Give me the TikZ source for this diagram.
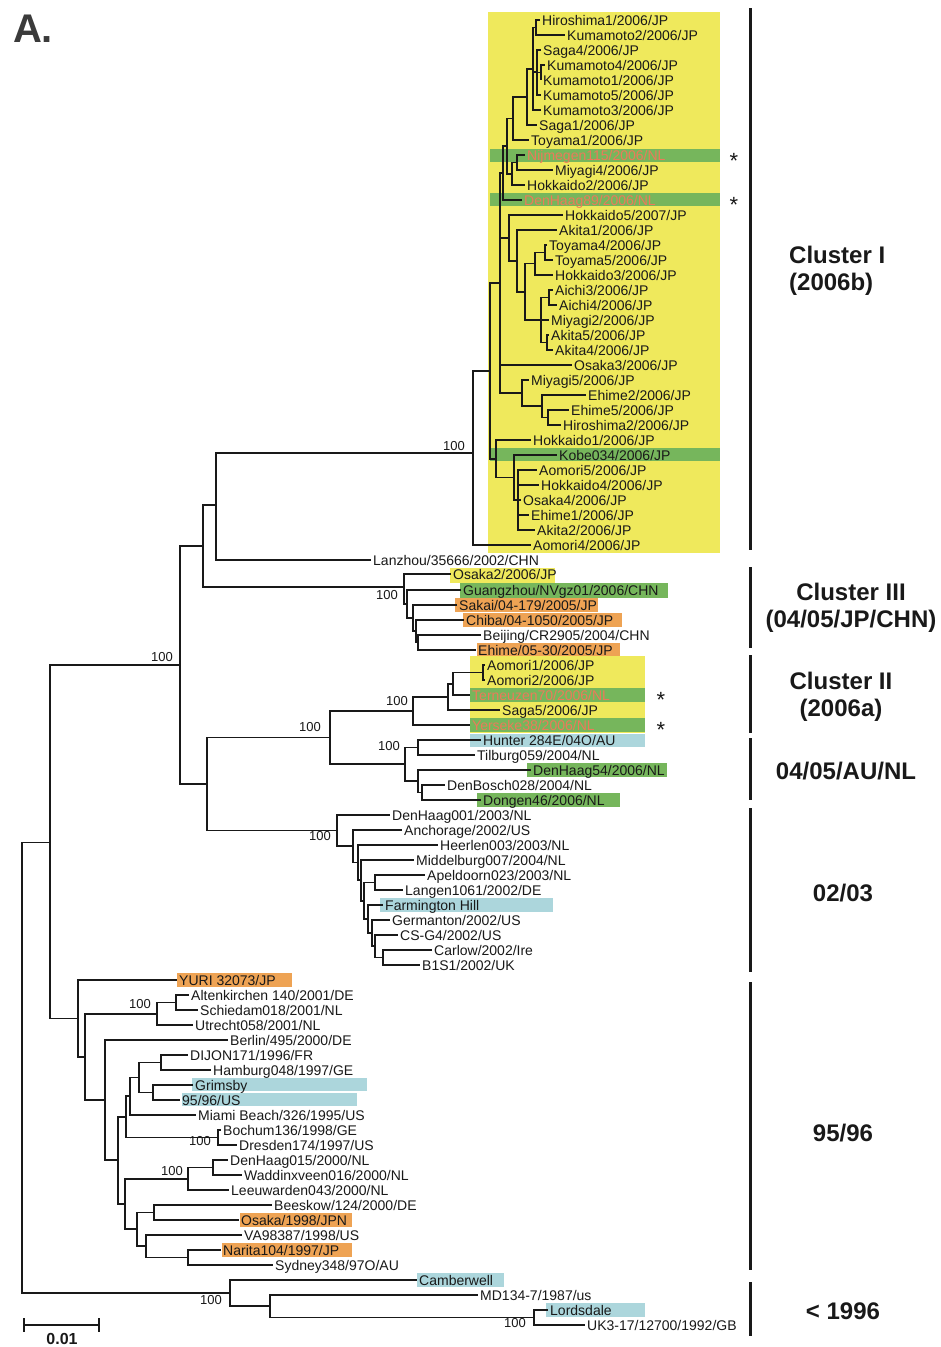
\documentclass[tikz,border=0pt]{standalone}
\usepackage{fontspec}
\setmainfont{Liberation Sans}
\definecolor{yel}{RGB}{239,233,92}
\definecolor{grn}{RGB}{118,182,92}
\definecolor{org}{RGB}{238,163,84}
\definecolor{lbl}{RGB}{172,214,220}
\definecolor{redtx}{RGB}{236,122,90}
\definecolor{ink}{RGB}{25,25,25}
\newcommand\mkpt[3]{\coordinate (#1) at (#2,#3);}
\newcommand\lf[5][ink]{\node[leaf,text=#1] (#2) at (#3,#4) {#5};}
\newcommand\kids[2]{\foreach \c in {#2} {\draw[br] (#1) |- (\c);}}
\begin{document}
\begin{tikzpicture}[x=1pt,y=-1pt,
  br/.style={draw=ink,line width=1.2pt},
  leaf/.style={anchor=west,inner sep=2pt,text height=10pt,text depth=0pt,font=\fontsize{14}{14}\selectfont},
  boot/.style={inner sep=0pt,font=\fontsize{13}{13}\selectfont,text=ink},
  bar/.style={draw=ink,line width=3pt},
  clab/.style={inner sep=0pt,font=\fontsize{24}{27}\selectfont\bfseries,text=ink},
  star/.style={inner sep=0pt,font=\fontsize{22}{22}\selectfont,text=ink}]
\useasboundingbox (0,0) rectangle (940,1347);
\fill[white] (0,0) rectangle (940,1347);
% ---------- colour bands ----------
\fill[yel] (488,12) rectangle (720,553);
\fill[grn] (490,149) rectangle (720,162);
\fill[grn] (490,193) rectangle (720,206);
\fill[grn] (490,448) rectangle (720,461);
\fill[yel] (450,568) rectangle (555,583);
\fill[grn] (460,583) rectangle (668,598);
\fill[org] (455,598) rectangle (598,612);
\fill[org] (463,613) rectangle (622,627);
\fill[org] (477,643) rectangle (620,657);
\fill[yel] (470,656) rectangle (645,733);
\fill[grn] (470,688) rectangle (645,702);
\fill[grn] (470,718) rectangle (645,732);
\fill[lbl] (470,734) rectangle (645,747);
\fill[grn] (527,763) rectangle (667,777);
\fill[grn] (477,793) rectangle (620,807);
\fill[lbl] (380,898) rectangle (553,912);
\fill[org] (177,973) rectangle (292,987);
\fill[lbl] (192,1078) rectangle (367,1091);
\fill[lbl] (182,1093) rectangle (357,1106);
\fill[org] (240,1213) rectangle (352,1227);
\fill[org] (222,1243) rectangle (352,1257);
\fill[lbl] (417,1273) rectangle (504,1287);
\fill[lbl] (546,1303) rectangle (645,1317);
% ---------- leaves: cluster I ----------
\lf{hiro1}{540}{20}{Hiroshima1/2006/JP}
\lf{kuma2}{565}{35}{Kumamoto2/2006/JP}
\lf{saga4}{541}{50}{Saga4/2006/JP}
\lf{kuma4}{545}{65}{Kumamoto4/2006/JP}
\lf{kuma1}{541}{80}{Kumamoto1/2006/JP}
\lf{kuma5}{541}{95}{Kumamoto5/2006/JP}
\lf{kuma3}{541}{110}{Kumamoto3/2006/JP}
\lf{saga1}{537}{125}{Saga1/2006/JP}
\lf{toya1}{529}{140}{Toyama1/2006/JP}
\lf[redtx]{nijm}{525}{155}{Nijmegen115/2006/NL}
\lf{miya4}{553}{170}{Miyagi4/2006/JP}
\lf{hokk2}{525}{185}{Hokkaido2/2006/JP}
\lf[redtx]{dh89}{522}{200}{DenHaag89/2006/NL}
\lf{hokk5}{563}{215}{Hokkaido5/2007/JP}
\lf{akit1}{557}{230}{Akita1/2006/JP}
\lf{toya4}{547}{245}{Toyama4/2006/JP}
\lf{toya5}{553}{260}{Toyama5/2006/JP}
\lf{hokk3}{553}{275}{Hokkaido3/2006/JP}
\lf{aich3}{553}{290}{Aichi3/2006/JP}
\lf{aich4}{557}{305}{Aichi4/2006/JP}
\lf{miya2}{549}{320}{Miyagi2/2006/JP}
\lf{akit5}{549}{335}{Akita5/2006/JP}
\lf{akit4}{553}{350}{Akita4/2006/JP}
\lf{osak3}{572}{365}{Osaka3/2006/JP}
\lf{miya5}{529}{380}{Miyagi5/2006/JP}
\lf{ehim2}{586}{395}{Ehime2/2006/JP}
\lf{ehim5}{569}{410}{Ehime5/2006/JP}
\lf{hiro2}{561}{425}{Hiroshima2/2006/JP}
\lf{hokk1}{531}{440}{Hokkaido1/2006/JP}
\lf{kobe}{557}{455}{Kobe034/2006/JP}
\lf{aomo5}{537}{470}{Aomori5/2006/JP}
\lf{hokk4}{539}{485}{Hokkaido4/2006/JP}
\lf{osak4}{521}{500}{Osaka4/2006/JP}
\lf{ehim1}{529}{515}{Ehime1/2006/JP}
\lf{akit2}{535}{530}{Akita2/2006/JP}
\lf{aomo4}{531}{545}{Aomori4/2006/JP}
\lf{lanz}{371}{560}{Lanzhou/35666/2002/CHN}
% ---------- cluster III ----------
\lf{osak2}{451}{574}{Osaka2/2006/JP}
\lf{guang}{461}{590}{Guangzhou/NVgz01/2006/CHN}
\lf{sakai}{457}{605}{Sakai/04-179/2005/JP}
\lf{chiba}{464}{620}{Chiba/04-1050/2005/JP}
\lf{beij}{481}{635}{Beijing/CR2905/2004/CHN}
\lf{ehimB}{476}{650}{Ehime/05-30/2005/JP}
% ---------- cluster II ----------
\lf{aomo1}{485}{665}{Aomori1/2006/JP}
\lf{aomo2}{485}{680}{Aomori2/2006/JP}
\lf[redtx]{tern}{470}{695}{Terneuzen70/2006/NL}
\lf{saga5}{500}{710}{Saga5/2006/JP}
\lf[redtx]{yers}{470}{725}{Yerseke38/2006/NL}
% ---------- 04/05/AU/NL ----------
\lf{hunt}{481}{740}{Hunter 284E/04O/AU}
\lf{tilb}{475}{755}{Tilburg059/2004/NL}
\lf{dh54}{531}{770}{DenHaag54/2006/NL}
\lf{dbos}{445}{785}{DenBosch028/2004/NL}
\lf{dong}{481}{800}{Dongen46/2006/NL}
% ---------- 02/03 ----------
\lf{dh001}{390}{815}{DenHaag001/2003/NL}
\lf{anch}{402}{830}{Anchorage/2002/US}
\lf{heer}{438}{845}{Heerlen003/2003/NL}
\lf{midd}{414}{860}{Middelburg007/2004/NL}
\lf{apel}{425}{875}{Apeldoorn023/2003/NL}
\lf{lang}{403}{890}{Langen1061/2002/DE}
\lf{farm}{383}{905}{Farmington Hill}
\lf{germ}{390}{920}{Germanton/2002/US}
\lf{csg4}{398}{935}{CS-G4/2002/US}
\lf{carl}{432}{950}{Carlow/2002/Ire}
\lf{b1s1}{420}{965}{B1S1/2002/UK}
% ---------- 95/96 ----------
\lf{yuri}{177}{980}{YURI 32073/JP}
\lf{alten}{189}{995}{Altenkirchen 140/2001/DE}
\lf{schied}{198}{1010}{Schiedam018/2001/NL}
\lf{utre}{193}{1025}{Utrecht058/2001/NL}
\lf{berl}{228}{1040}{Berlin/495/2000/DE}
\lf{dijon}{188}{1055}{DIJON171/1996/FR}
\lf{hamb}{211}{1070}{Hamburg048/1997/GE}
\lf{grims}{193}{1085}{Grimsby}
\lf{usnf}{180}{1100}{95/96/US}
\lf{miami}{196}{1115}{Miami Beach/326/1995/US}
\lf{boch}{221}{1130}{Bochum136/1998/GE}
\lf{dres}{237}{1145}{Dresden174/1997/US}
\lf{dh015}{228}{1160}{DenHaag015/2000/NL}
\lf{wadd}{242}{1175}{Waddinxveen016/2000/NL}
\lf{leeu}{229}{1190}{Leeuwarden043/2000/NL}
\lf{bees}{272}{1205}{Beeskow/124/2000/DE}
\lf{osa98}{239}{1220}{Osaka/1998/JPN}
\lf{va98}{242}{1235}{VA98387/1998/US}
\lf{nari}{221}{1250}{Narita104/1997/JP}
\lf{sydn}{273}{1265}{Sydney348/97O/AU}
% ---------- <1996 ----------
\lf{camb}{417}{1280}{Camberwell}
\lf{md134}{478}{1295}{MD134-7/1987/us}
\lf{lord}{548}{1310}{Lordsdale}
\lf{uk3}{585}{1325}{UK3-17/12700/1992/GB}
% ---------- internal nodes ----------
\mkpt{W1}{536}{27.5} \mkpt{W3}{541}{72.5} \mkpt{W4}{537}{72}
\mkpt{W5}{533}{69} \mkpt{W6}{527}{97} \mkpt{W7}{513}{118.5}
\mkpt{W8}{517}{162.5} \mkpt{W9}{512}{174} \mkpt{W10}{507}{146}
\mkpt{W11}{503}{173}
\mkpt{X1}{545}{252.5} \mkpt{X2}{535}{263.75} \mkpt{X3}{549}{297.5}
\mkpt{X4}{547}{342.5} \mkpt{X5}{541}{320} \mkpt{X6}{525}{292}
\mkpt{X7}{517}{261} \mkpt{X8}{509}{238}
\mkpt{Y1}{548}{417.5} \mkpt{Y2}{542}{406} \mkpt{Y3}{522}{393}
\mkpt{B1}{500}{283}
\mkpt{V4}{518}{500} \mkpt{V3}{514}{477.5} \mkpt{V2}{496}{459}
\mkpt{V1}{490}{371} \mkpt{C1}{473}{453}
\mkpt{N3}{216}{505}
\mkpt{U4}{418}{642.5} \mkpt{U3}{416}{631} \mkpt{U2}{413}{618}
\mkpt{U1}{407}{604} \mkpt{CIII}{404}{587}
\mkpt{N2}{203}{546}
\mkpt{AOM}{483}{672.5} \mkpt{CIIb}{453}{684} \mkpt{CIIa}{448}{697}
\mkpt{CII}{413}{711}
\mkpt{T1}{418}{747.5} \mkpt{T3}{422}{792.5} \mkpt{T2}{418}{781}
\mkpt{AUNL}{405}{764} \mkpt{N5}{330}{737.5}
\mkpt{ZC}{383}{957.5} \mkpt{ZB}{375}{946} \mkpt{ZA}{372}{933}
\mkpt{ZF}{368}{919} \mkpt{ZL}{375}{882.5} \mkpt{ZM}{364}{901}
\mkpt{ZN}{361}{880} \mkpt{ZH}{358}{862.5} \mkpt{Z1}{353}{846}
\mkpt{Z0}{337}{830.5}
\mkpt{N4}{207}{784} \mkpt{N1}{180}{665}
\mkpt{iE}{176}{1002.5} \mkpt{iC}{157}{1014} \mkpt{iK}{161}{1062.5}
\mkpt{iL}{153}{1092.5} \mkpt{iJ}{139}{1077.5} \mkpt{iI}{130}{1096}
\mkpt{iM}{218}{1137.5} \mkpt{iG}{126}{1117} \mkpt{iP}{213}{1167.5}
\mkpt{iN}{188}{1179} \mkpt{iQ}{154}{1212.5} \mkpt{iS}{188}{1257.5}
\mkpt{iR}{146}{1246} \mkpt{iO}{137}{1229} \mkpt{iH}{125}{1204}
\mkpt{iF}{118}{1160} \mkpt{iD}{105}{1100} \mkpt{iB}{85}{1057}
\mkpt{iA}{78}{1018.5}
\mkpt{A0}{50}{842.5}
\mkpt{LL}{534}{1317.5} \mkpt{MM}{270}{1306} \mkpt{CC}{230}{1293}
\mkpt{root}{22}{1068}
% ---------- branches ----------
\kids{W1}{hiro1.west,kuma2.west}
\kids{W3}{kuma4.west,kuma1.west}
\kids{W4}{saga4.west,W3,kuma5.west}
\kids{W5}{W1,W4,kuma3.west}
\kids{W6}{W5,saga1.west}
\kids{W7}{W6,toya1.west}
\kids{W8}{nijm.west,miya4.west}
\kids{W9}{W8,hokk2.west}
\kids{W10}{W7,W9}
\kids{W11}{W10,dh89.west}
\kids{X1}{toya4.west,toya5.west}
\kids{X2}{X1,hokk3.west}
\kids{X3}{aich3.west,aich4.west}
\kids{X4}{akit5.west,akit4.west}
\kids{X5}{X3,miya2.west,X4}
\kids{X6}{X2,X5}
\kids{X7}{akit1.west,X6}
\kids{X8}{hokk5.west,X7}
\kids{Y1}{ehim5.west,hiro2.west}
\kids{Y2}{ehim2.west,Y1}
\kids{Y3}{miya5.west,Y2}
\kids{B1}{W11,X8,osak3.west,Y3}
\kids{V4}{aomo5.west,hokk4.west,osak4.west,ehim1.west,akit2.west}
\kids{V3}{kobe.west,V4}
\kids{V2}{hokk1.west,V3}
\kids{V1}{B1,V2}
\kids{C1}{V1,aomo4.west}
\kids{N3}{C1,lanz.west}
\kids{U4}{beij.west,ehimB.west}
\kids{U3}{chiba.west,U4}
\kids{U2}{sakai.west,U3}
\kids{U1}{guang.west,U2}
\kids{CIII}{osak2.west,U1}
\kids{N2}{N3,CIII}
\kids{AOM}{aomo1.west,aomo2.west}
\kids{CIIb}{AOM,tern.west}
\kids{CIIa}{CIIb,saga5.west}
\kids{CII}{CIIa,yers.west}
\kids{T1}{hunt.west,tilb.west}
\kids{T3}{dbos.west,dong.west}
\kids{T2}{dh54.west,T3}
\kids{AUNL}{T1,T2}
\kids{N5}{CII,AUNL}
\kids{ZC}{carl.west,b1s1.west}
\kids{ZB}{csg4.west,ZC}
\kids{ZA}{germ.west,ZB}
\kids{ZF}{farm.west,ZA}
\kids{ZL}{apel.west,lang.west}
\kids{ZM}{ZL,ZF}
\kids{ZN}{midd.west,ZM}
\kids{ZH}{heer.west,ZN}
\kids{Z1}{anch.west,ZH}
\kids{Z0}{dh001.west,Z1}
\kids{N4}{N5,Z0}
\kids{N1}{N2,N4}
\kids{iE}{alten.west,schied.west}
\kids{iC}{iE,utre.west}
\kids{iK}{dijon.west,hamb.west}
\kids{iL}{grims.west,usnf.west}
\kids{iJ}{iK,iL}
\kids{iI}{iJ,miami.west}
\kids{iM}{boch.west,dres.west}
\kids{iG}{iI,iM}
\kids{iP}{dh015.west,wadd.west}
\kids{iN}{iP,leeu.west}
\kids{iQ}{bees.west,osa98.west}
\kids{iS}{nari.west,sydn.west}
\kids{iR}{va98.west,iS}
\kids{iO}{iQ,iR}
\kids{iH}{iN,iO}
\kids{iF}{iG,iH}
\kids{iD}{berl.west,iF}
\kids{iB}{iC,iD}
\kids{iA}{yuri.west,iB}
\kids{A0}{N1,iA}
\kids{LL}{lord.west,uk3.west}
\kids{MM}{md134.west,LL}
\kids{CC}{camb.west,MM}
\kids{root}{A0,CC}
% ---------- bootstrap values ----------
\node[boot] (b1) at (454,446) {100};
\node[boot] (b2) at (387,595) {100};
\node[boot] (b3) at (162,657) {100};
\node[boot] (b4) at (397,701) {100};
\node[boot] (b5) at (310,727) {100};
\node[boot] (b6) at (389,746) {100};
\node[boot] (b7) at (320,836) {100};
\node[boot] (b8) at (140,1004) {100};
\node[boot] (b9) at (200,1141) {100};
\node[boot] (b10) at (172,1171) {100};
\node[boot] (b11) at (211,1300) {100};
\node[boot] (b12) at (515,1323) {100};
% ---------- asterisks ----------
\node[star] (s1) at (734,161) {*};
\node[star] (s2) at (734,205) {*};
\node[star] (s3) at (661,700) {*};
\node[star] (s4) at (661,730) {*};
% ---------- cluster bars ----------
\draw[bar] (750,8) -- (750,550);
\draw[bar] (750,567) -- (750,648);
\draw[bar] (750,655) -- (750,733);
\draw[bar] (750,738) -- (750,800);
\draw[bar] (750,808) -- (750,972);
\draw[bar] (750,982) -- (750,1270);
\draw[bar] (750,1282) -- (750,1336);
% ---------- cluster labels ----------
\node[clab,anchor=west,align=left] (l1) at (789,271) {Cluster I\\(2006b)};
\node[clab,align=center] (l2) at (851,608) {Cluster III\\(04/05/JP/CHN)};
\node[clab,align=center] (l3) at (841,697) {Cluster II\\(2006a)};
\node[clab] (l4) at (846,771) {04/05/AU/NL};
\node[clab] (l5) at (843,893) {02/03};
\node[clab] (l6) at (843,1133) {95/96};
\node[clab] (l7) at (843,1311) {< 1996};
% ---------- panel letter and scale ----------
\node[inner sep=0pt,font=\fontsize{40}{40}\selectfont\bfseries,text=ink!85] (pa) at (33,29) {A.};
\coordinate (sb1) at (24,1325);
\coordinate (sb2) at (99,1325);
\draw[br,line width=1.4pt] (sb1) -- (sb2);
\draw[br,line width=1.4pt] ([yshift=7pt]sb1) -- ([yshift=-7pt]sb1);
\draw[br,line width=1.4pt] ([yshift=7pt]sb2) -- ([yshift=-7pt]sb2);
\node[inner sep=0pt,font=\fontsize{16}{16}\selectfont\bfseries,text=ink] (sbl) at (62,1339) {0.01};
\end{tikzpicture}
\end{document}
